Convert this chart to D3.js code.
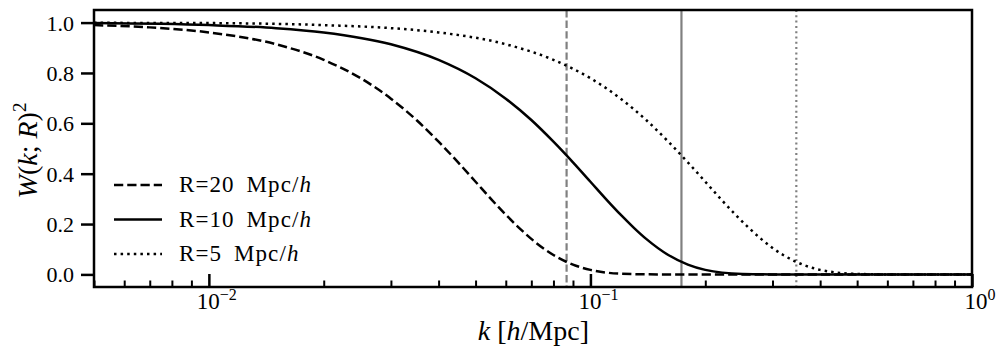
<!DOCTYPE html>
<html>
<head>
<meta charset="utf-8">
<script src="https://cdn.jsdelivr.net/npm/d3@7"></script>
<style>
  body { margin: 0; background: #fff; }
</style>
</head>
<body>
<div id="chart-area"></div>
<script>
// k grid (h/Mpc) and W(k;R)^2
var kR20 = [0.005, 0.007, 0.01, 0.015, 0.02, 0.025, 0.03, 0.035, 0.04, 0.045, 0.05, 0.055, 0.06, 0.065, 0.07, 0.08, 0.09, 0.1, 0.12, 0.15, 0.2, 0.3, 0.5, 1.0];
var wR20 = [0.990, 0.981, 0.961, 0.914, 0.852, 0.779, 0.698, 0.613, 0.527, 0.445, 0.368, 0.298, 0.237, 0.185, 0.141, 0.077, 0.039, 0.018, 0.003, 0.000, 0.000, 0.000, 0.000, 0.000];

var kR10 = [0.005, 0.01, 0.015, 0.02, 0.03, 0.04, 0.05, 0.06, 0.07, 0.08, 0.09, 0.1, 0.11, 0.12, 0.13, 0.14, 0.16, 0.18, 0.2, 0.25, 0.3, 0.5, 1.0];
var wR10 = [0.998, 0.990, 0.978, 0.961, 0.914, 0.852, 0.779, 0.698, 0.613, 0.527, 0.445, 0.368, 0.298, 0.237, 0.185, 0.141, 0.077, 0.039, 0.018, 0.002, 0.000, 0.000, 0.000];

var kR5 = [0.005, 0.01, 0.02, 0.03, 0.04, 0.06, 0.08, 0.1, 0.12, 0.14, 0.16, 0.18, 0.2, 0.22, 0.24, 0.26, 0.28, 0.32, 0.36, 0.4, 0.5, 0.6, 0.8, 1.0];
var wR5 = [0.999, 0.998, 0.990, 0.978, 0.961, 0.914, 0.852, 0.779, 0.698, 0.613, 0.527, 0.445, 0.368, 0.298, 0.237, 0.185, 0.141, 0.077, 0.039, 0.018, 0.002, 0.000, 0.000, 0.000];

// vertical markers (k = sqrt(3)/R)
var markerK = [0.0866, 0.1732, 0.3464];

var yTicks = [0.0, 0.2, 0.4, 0.6, 0.8, 1.0];
var xMajor = [0.01, 0.1, 1];
var xMajorLabels = ["\u22122", "\u22121", "0"];
var legendLabels = ["R=20 Mpc/", "R=10 Mpc/", "R=5 Mpc/"];

var FONT = "'Liberation Serif', 'Times New Roman', serif";

var margin = {top: 10, right: 25, bottom: 71, left: 94},
    width = 997 - margin.left - margin.right,
    height = 358 - margin.top - margin.bottom;

var svg = d3.select("#chart-area")
  .append("svg")
    .attr("width", 997)
    .attr("height", 358)
  .append("g")
    .attr("transform", "translate(" + margin.left + "," + margin.top + ")");

var x = d3.scaleLog().domain([0.005, 1]).range([0, width]);
var y = d3.scaleLinear().domain([-0.05, 1.05]).range([height, 0]);

svg.append("clipPath").attr("id", "clip")
  .append("rect").attr("width", width).attr("height", height);

var styles = [
  {dash: "9.25,4", color: "#000"},
  {dash: null, color: "#000"},
  {dash: "2.5,4.1", color: "#000"}
];
var greyDash = ["7.4,3.2", null, "2,3.3"];

// grey vertical lines
markerK.forEach(function(k, i) {
  svg.append("line")
    .attr("x1", x(k)).attr("x2", x(k))
    .attr("y1", 0).attr("y2", height)
    .attr("stroke", "#808080")
    .attr("stroke-width", 2.2)
    .attr("stroke-dasharray", greyDash[i]);
});

var line = d3.line()
  .x(function(d) { return x(d[0]); })
  .y(function(d) { return y(d[1]); })
  .curve(d3.curveMonotoneX);

var series = [d3.zip(kR20, wR20), d3.zip(kR10, wR10), d3.zip(kR5, wR5)];

svg.append("g").attr("clip-path", "url(#clip)")
  .selectAll("path")
  .data(series)
  .enter()
  .append("path")
    .attr("d", line)
    .attr("fill", "none")
    .attr("stroke", function(d, i) { return styles[i].color; })
    .attr("stroke-width", 2.5)
    .attr("stroke-dasharray", function(d, i) { return styles[i].dash; });

// x axis: ticks point inward
var minor = [];
[0.001, 0.01, 0.1].forEach(function(b) {
  for (var m = 2; m <= 9; m++) {
    var v = m * b;
    if (v >= 0.005 && v < 1) minor.push(v);
  }
});

var xAxisMajor = d3.axisBottom(x).tickValues(xMajor).tickSize(-13).tickFormat("");
var xAxisMinor = d3.axisBottom(x).tickValues(minor).tickSize(-6.5).tickFormat("");

var gx1 = svg.append("g").attr("transform", "translate(0," + height + ")").call(xAxisMajor);
var gx2 = svg.append("g").attr("transform", "translate(0," + height + ")").call(xAxisMinor);
[gx1, gx2].forEach(function(g) {
  g.select(".domain").remove();
  g.selectAll("line").attr("stroke", "#000").attr("stroke-width", 2);
});
gx1.selectAll("line").attr("stroke-width", 2.5);

xMajor.forEach(function(v, i) {
  var t = svg.append("text")
    .attr("x", x(v) + 8)
    .attr("y", height + 22)
    .attr("text-anchor", "middle")
    .style("font-family", FONT)
    .style("font-size", "23px");
  t.append("tspan").text("10");
  t.append("tspan").attr("dy", -9).style("font-size", "16px").text(xMajorLabels[i]);
});

// y axis: ticks point outward
var gy = svg.append("g")
  .call(d3.axisLeft(y).tickValues(yTicks).tickSize(13).tickPadding(7).tickFormat(d3.format(".1f")));
gy.select(".domain").remove();
gy.selectAll("line").attr("stroke", "#000").attr("stroke-width", 2.5);
gy.selectAll("text")
  .style("font-size", "22px")
  .style("font-family", FONT)
  .attr("dy", "0.34em");

// frame
svg.append("rect")
  .attr("width", width).attr("height", height)
  .attr("fill", "none")
  .attr("stroke", "#000")
  .attr("stroke-width", 2.5);

// axis labels
var xl = svg.append("text")
  .attr("x", x(0.1) - 57)
  .attr("y", height + 53)
  .attr("text-anchor", "middle")
  .style("font-family", FONT)
  .style("font-size", "28px");
xl.append("tspan").style("font-style", "italic").text("k");
xl.append("tspan").text(" [");
xl.append("tspan").style("font-style", "italic").text("h");
xl.append("tspan").text("/Mpc]");

var yl = svg.append("text")
  .attr("transform", "translate(-57," + (height / 2 + 2) + ") rotate(-90)")
  .attr("text-anchor", "middle")
  .style("font-family", FONT)
  .style("font-size", "28px");
yl.append("tspan").style("font-style", "italic").text("W");
yl.append("tspan").text("(");
yl.append("tspan").style("font-style", "italic").text("k");
yl.append("tspan").text("; ");
yl.append("tspan").style("font-style", "italic").text("R");
yl.append("tspan").text(")");
yl.append("tspan").attr("dy", -11).style("font-size", "19px").text("2");

// legend
var legend = svg.append("g").attr("transform", "translate(20,175)");
legendLabels.forEach(function(lab, i) {
  var row = legend.append("g").attr("transform", "translate(0," + (i * 34.5) + ")");
  row.append("line")
    .attr("x1", 0).attr("x2", 48)
    .attr("y1", 0).attr("y2", 0)
    .attr("stroke", styles[i].color)
    .attr("stroke-width", 2.5)
    .attr("stroke-dasharray", styles[i].dash);
  var t = row.append("text")
    .attr("x", 65)
    .attr("y", 7)
    .style("font-family", FONT)
    .style("font-size", "23px")
    .style("letter-spacing", "1.1px")
    .style("word-spacing", "5px");
  t.append("tspan").text(lab);
  t.append("tspan").style("font-style", "italic").text("h");
});
</script>
</body>
</html>
